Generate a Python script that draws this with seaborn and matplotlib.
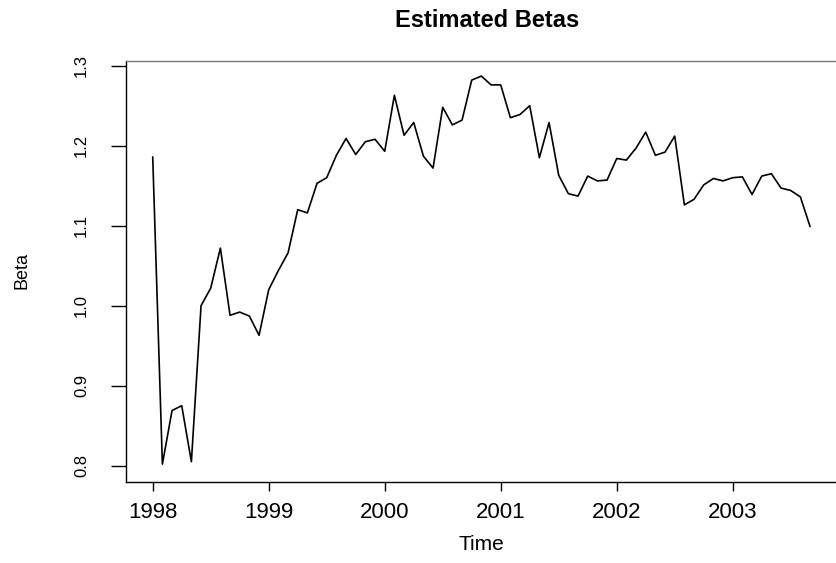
import numpy as np
import pandas as pd
import seaborn as sns
import matplotlib
matplotlib.use("Agg")
import matplotlib.pyplot as plt

# monthly estimated betas, Jan 1998 - Sep 2003
beta = [1.186, 0.802, 0.869, 0.875, 0.805, 1.000, 1.022, 1.072, 0.988, 0.992,
        0.987, 0.963, 1.020, 1.044, 1.066, 1.120, 1.116, 1.153, 1.160, 1.188,
        1.209, 1.189, 1.205, 1.208, 1.193, 1.263, 1.213, 1.229, 1.187, 1.172,
        1.248, 1.226, 1.232, 1.282, 1.287, 1.276, 1.276, 1.235, 1.239, 1.250,
        1.185, 1.229, 1.163, 1.140, 1.137, 1.162, 1.156, 1.157, 1.184, 1.182,
        1.197, 1.217, 1.188, 1.192, 1.212, 1.126, 1.133, 1.151, 1.159, 1.156,
        1.160, 1.161, 1.139, 1.162, 1.165, 1.147, 1.144, 1.136, 1.099]
time = 1998 + np.arange(len(beta)) / 12
year_ticks = [1998, 1999, 2000, 2001, 2002, 2003]
beta_ticks = [0.8, 0.9, 1.0, 1.1, 1.2, 1.3]

df = pd.DataFrame({"Time": time, "Beta": beta})

sns.set_theme(style="ticks")
plt.rcParams['font.family'] = ['Liberation Sans', 'DejaVu Sans']
plt.rcParams['text.color'] = 'black'

fig = plt.figure(figsize=(8.37, 5.63), dpi=100)
ax = fig.add_axes([0.151, 0.1444, 0.849, 0.7478])

sns.lineplot(data=df, x="Time", y="Beta", color="black", linewidth=1.2, ax=ax)

ax.set_xlim(1997.773, 2003.899)
ax.set_ylim(0.78, 1.30625)
ax.set_xticks(year_ticks)
ax.set_xticklabels([str(y) for y in year_ticks], fontsize=16)
ax.set_yticks(beta_ticks)
ax.set_yticklabels([f"{b:.1f}" for b in beta_ticks], fontsize=12,
                   rotation=90, va="center")
ax.tick_params(axis="x", length=6.5, width=1, pad=8, colors="black")
ax.tick_params(axis="y", length=10.8, width=1, pad=16, colors="black")
ax.set_xlabel("")
ax.set_ylabel("")

for s in ["left", "bottom"]:
    ax.spines[s].set_color("black")
    ax.spines[s].set_linewidth(1.0)
ax.spines["top"].set_color("#777777")
ax.spines["top"].set_linewidth(1.0)
ax.spines["right"].set_visible(False)

fig.text(0.5815, 0.964, "Estimated Betas", ha="center", va="center",
         fontsize=17, fontweight="bold")
fig.text(0.5755, 0.032, "Time", ha="center", va="center", fontsize=15)
fig.text(0.026, 0.519, "Beta", ha="center", va="center", fontsize=13,
         rotation=90)

fig.savefig("out.png", dpi=100)
